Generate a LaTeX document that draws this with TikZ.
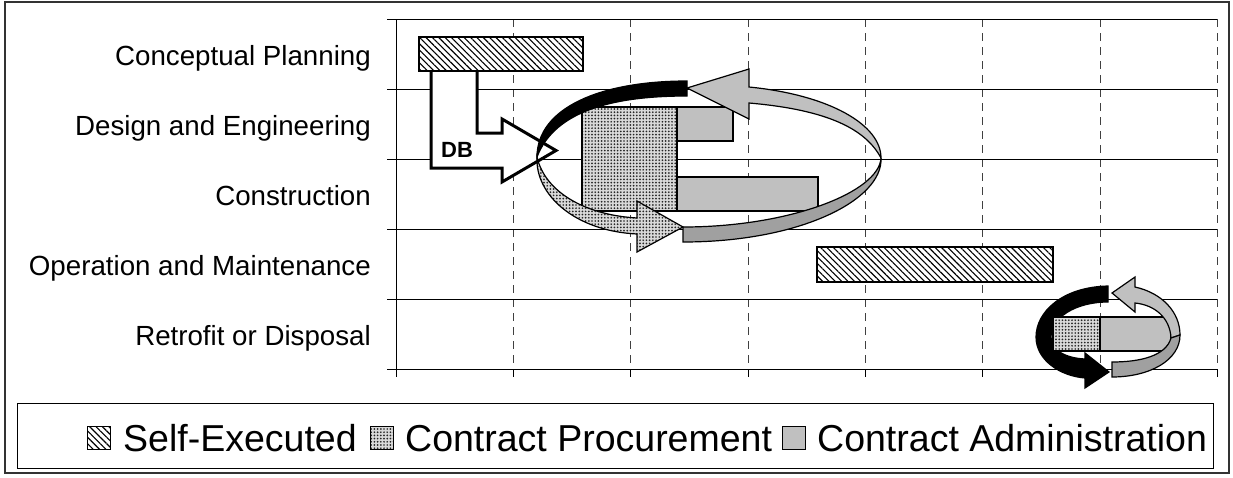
\documentclass[tikz,border=0pt]{standalone}
\usepackage{fontspec}
\setmainfont{Liberation Sans}
\usetikzlibrary{patterns.meta}
\definecolor{ltgray}{RGB}{192,192,192}
\definecolor{dkgray}{RGB}{160,160,160}
\begin{document}
\begin{tikzpicture}[x=1pt,y=-1pt,
  gridv/.style={black!75,line width=1pt,dash pattern=on 8pt off 6pt},
  hline/.style={black,line width=1pt},
  selfex/.style={draw=black,line width=1.4pt,preaction={fill=white},pattern={Lines[angle=-45,distance=4.5pt,line width=1.1pt]},pattern color=black},
  proc/.style={draw=black,line width=1.4pt,preaction={fill=black!15},pattern={Dots[radius=0.95pt,distance=3.2pt]},pattern color=black!85},
  admin/.style={draw=black,line width=1.4pt,fill=ltgray},
  rowlabel/.style={anchor=base east,inner sep=0pt,font=\fontsize{27.7}{30}\selectfont},
  legtext/.style={anchor=base west,inner sep=0pt,font=\fontsize{37.5}{40}\selectfont},
  ribbon/.style={draw=black,line width=1.2pt,line join=miter},
  dbarrow/.style={draw=black,line width=3pt,fill=white,line join=miter},
]
\useasboundingbox (0,0) rectangle (1233,477);
% outer frame
\draw[line width=1.5pt,black!80] (5,2) rectangle (1229,473);
% grid
\foreach \x in {513.3,630.7,748,865.3,982.7,1100,1217.3}{
  \draw[gridv] (\x,19) -- (\x,369);
  \draw[hline] (\x,369) -- (\x,377);
}
\foreach \y in {19,89,159,229,299,369}{
  \draw[hline] (387,\y) -- (1217.3,\y);
}
\draw[hline] (396,19) -- (396,377);
% row labels
\node[rowlabel] (l1) at (371,65) {Conceptual Planning};
\node[rowlabel] (l2) at (371,135) {Design and Engineering};
\node[rowlabel] (l3) at (371,205) {Construction};
\node[rowlabel] (l4) at (371,275) {Operation and Maintenance};
\node[rowlabel] (l5) at (371,345) {Retrofit or Disposal};
% DB arrow
\draw[dbarrow] (431,71) -- (431,168) -- (502,168) -- (502,182) -- (556,150.5) -- (502,119) -- (502,133) -- (477,133) -- (477,71);
\node[font=\bfseries\fontsize{22}{24}\selectfont,inner sep=0pt] (db) at (457,150) {DB};
% bars
\draw[selfex] (419,37) rectangle (583,71);
\draw[proc] (582,107) rectangle (677,211);
\draw[admin] (677,107) rectangle (733,141);
\draw[admin] (677,177) rectangle (818,211);
\draw[selfex] (817,247) rectangle (1053,282);
% big cycle
\path[ribbon,fill=black] (537,157) .. controls (537,108) and (600,81) .. (687,81) -- (687,96)
  .. controls (615,96) and (555,110) .. (537,157) -- cycle;
\path[ribbon,preaction={fill=black!15},pattern={Dots[radius=0.95pt,distance=3.2pt]},pattern color=black!85]
  (537,157) .. controls (545,192) and (585,215) .. (637,218) -- (637,201) -- (683,227) -- (637,252) -- (637,234)
  .. controls (575,231) and (535,195) .. (537,157) -- cycle;
\path[ribbon,fill=ltgray] (687,88) -- (749,69) -- (749,87) .. controls (830,95) and (881,125) .. (881,158)
  .. controls (866,130) and (830,110) .. (749,103) -- (749,119) -- cycle;
\path[ribbon,fill=dkgray] (881,158) .. controls (879,192) and (790,227) .. (683,227) -- (683,242)
  .. controls (800,242) and (883,200) .. (881,158) -- cycle;
% small cycle
\path[ribbon,fill=black] (1108,286) .. controls (1062,287) and (1036,312) .. (1036,337)
  .. controls (1036,360) and (1060,376) .. (1085,378) -- (1085,388) -- (1109,372) -- (1085,353) -- (1085,359)
  .. controls (1065,358) and (1051,350) .. (1051,337) .. controls (1051,318) and (1075,302) .. (1108,302) -- cycle;
\draw[proc] (1053,317) rectangle (1100,351);
\draw[admin] (1100,317) rectangle (1171,351);
\path[ribbon,fill=ltgray] (1112,293) -- (1135,277) -- (1135,287) .. controls (1162,293) and (1180,312) .. (1180,335)
  -- (1171,338) .. controls (1170,318) and (1155,305) .. (1135,303) -- (1135,312) -- cycle;
\path[ribbon,fill=dkgray] (1171,338) .. controls (1166,356) and (1140,362) .. (1112,362) -- (1112,377)
  .. controls (1150,377) and (1180,360) .. (1180,335) -- cycle;
% legend
\draw[line width=1pt] (17,403) rectangle (1213,468);
\draw[selfex,line width=1pt] (87,426) rectangle (110,449);
\node[legtext] (t1) at (123,451) {Self-Executed};
\draw[proc,line width=1pt] (370,426) rectangle (393,449);
\node[legtext] (t2) at (405,451) {Contract Procurement};
\draw[admin,line width=1pt] (782,426) rectangle (805,449);
\node[legtext] (t3) at (817,451) {Contract Administration};
\end{tikzpicture}
\end{document}
